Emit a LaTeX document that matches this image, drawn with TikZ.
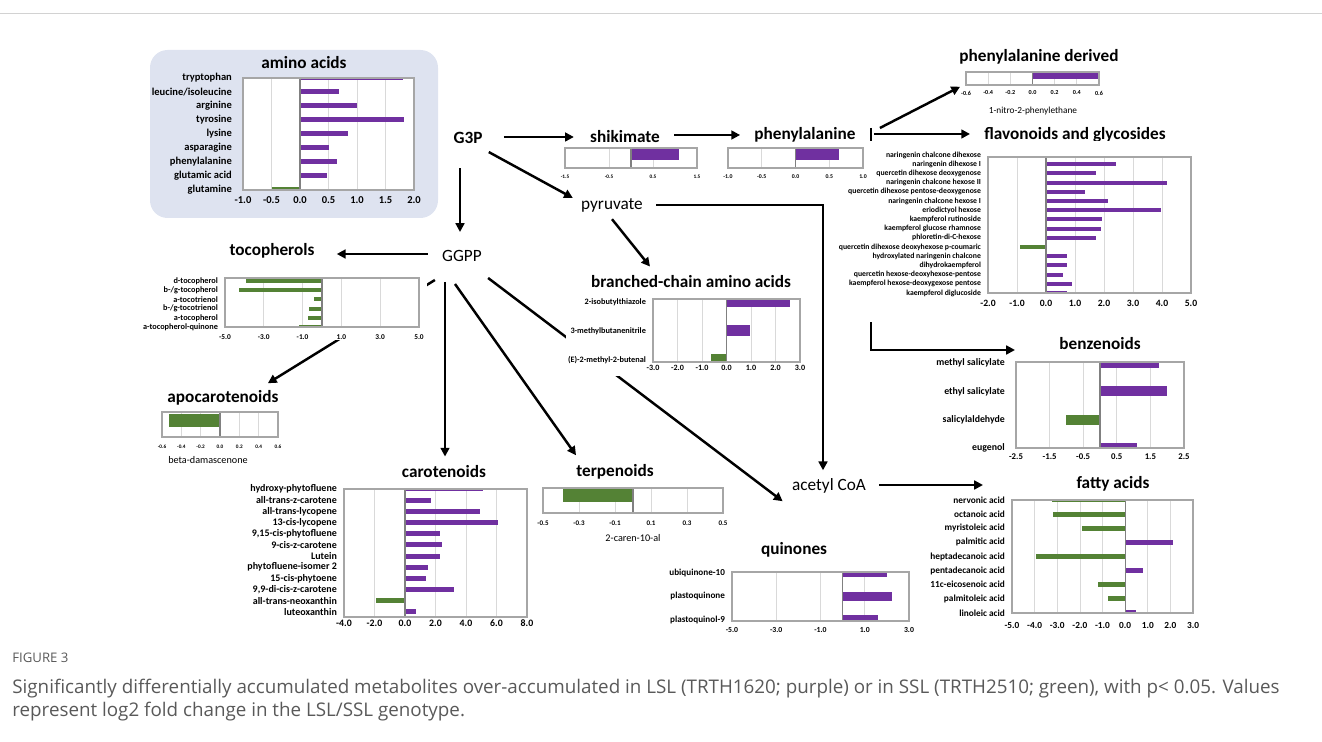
\documentclass[tikz,border=0pt]{standalone}
\usepackage{fontspec}
\setmainfont{Carlito}
\newfontfamily\capfont{Open Sans}
\usetikzlibrary{arrows.meta,calc}

\definecolor{lslpurple}{HTML}{7030A0}
\definecolor{sslgreen}{HTML}{548235}
\definecolor{gridgray}{HTML}{D9D9D9}
\definecolor{framegray}{HTML}{A6A6A6}
\definecolor{axisgray}{HTML}{808080}
\definecolor{panelblue}{HTML}{DEE3F0}
\definecolor{capgray}{HTML}{595959}

\newcommand\fs[1]{\fontsize{#1}{#1}\selectfont}
\newcommand\setchart[6]{\def\cL{#1}\def\cR{#2}\def\cT{#3}\def\cB{#4}\def\cMin{#5}\def\cMax{#6}}
\newcommand\vx[1]{(\cL+((#1)-(\cMin))*(\cR-\cL)/((\cMax)-(\cMin)))}
\newcommand\chartframe[1]{%
  \fill[white] (\cL,\cT) rectangle (\cR,\cB);
  \foreach \g in {#1} \draw[gridline] ({\vx{\g}},\cT) -- ({\vx{\g}},\cB);
}
\newcommand\chartclose[2]{%
  \draw[axisline] ({\vx{0}},\cT) -- ({\vx{0}},\cB);
  \draw[frameline] (\cL,\cT) rectangle (\cR,\cB);
  \foreach \t in {#1} \node[ticklab] at ({\vx{\t}},#2) {\t};
}
\newcommand\chartrows[5]{%
  \begin{scope}
  \clip (\cL,\cT) rectangle (\cR,\cB);
  \foreach \lab/\val [count=\i from 0] in {#5}{
    \pgfmathsetmacro\ry{#2+\i*(#3-#2)/(#1-1)}
    \ifdim\val pt<0pt\def\bc{negbar}\else\def\bc{posbar}\fi
    \fill[\bc] ({\vx{0}},{\ry-#4/2}) rectangle ({\vx{\val}},{\ry+#4/2});
  }
  \end{scope}
  \foreach \lab/\val [count=\i from 0] in {#5}{
    \pgfmathsetmacro\ry{#2+\i*(#3-#2)/(#1-1)}
    \node[rowlab] at (\cL-5,\ry) {\lab};
  }
}

\tikzset{
  posbar/.style={fill=lslpurple},
  negbar/.style={fill=sslgreen},
  gridline/.style={draw=gridgray, line width=0.4pt},
  axisline/.style={draw=axisgray, line width=0.7pt},
  frameline/.style={draw=framegray, line width=0.6pt},
  rowlab/.style={anchor=east, inner sep=1pt, font=\bfseries\fs{6}},
  ticklab/.style={inner sep=0pt, font=\bfseries\fs{6}},
  axtitle/.style={inner sep=0pt, font=\fs{5.8}},
  grouptitle/.style={inner sep=0pt, font=\bfseries\fs{9.8}},
  metab/.style={inner sep=0pt, font=\fs{9.8}},
  arr/.style={draw=black, line width=1.4pt, -{Triangle[length=5pt,width=5pt]}},
}

\begin{document}
\begin{tikzpicture}[x=0.02cm, y=-0.02cm]
\useasboundingbox (0,0) rectangle (1322,742);
\draw[gray!35, line width=0.5pt] (0,13) -- (1322,13);

\fill[panelblue, rounded corners=10pt] (150,50) rectangle (438,218);

\node[metab, font=\bfseries\fs{9.8}] (g3p) at (468,138) {G3P};
\node[metab, font=\bfseries\fs{9.8}] (shik) at (625,137) {shikimate};
\node[metab, font=\bfseries\fs{9.8}] (phe) at (805,135) {phenylalanine};
\node[metab] (pyr) at (612,205) {pyruvate};
\node[metab] (ggpp) at (462,256) {GGPP};
\node[metab] (acoa) at (829,486) {acetyl CoA};

\node[grouptitle] (t-amino) at (304,63) {amino acids};
\node[grouptitle] (t-toco) at (272,251) {tocopherols};
\node[grouptitle] (t-apo) at (223,398) {apocarotenoids};
\node[grouptitle] (t-caro) at (444,472) {carotenoids};
\node[grouptitle] (t-terp) at (615,472) {terpenoids};
\node[grouptitle] (t-bcaa) at (691,282) {branched-chain amino acids};
\node[grouptitle] (t-quin) at (794,550) {quinones};
\node[grouptitle] (t-phed) at (1039,57) {phenylalanine derived};
\node[grouptitle] (t-flav) at (1075,135) {flavonoids and glycosides};
\node[grouptitle] (t-benz) at (1100,344) {benzenoids};
\node[grouptitle] (t-fatty) at (1113,484) {fatty acids};

\coordinate (benzin) at (1015,350);
\coordinate (fattyin) at (983,485);

\draw[arr] ($(g3p.east)+(21,-1)$) -- ($(shik.west)+(-16,0)$);
\draw[arr] ($(shik.east)+(14,-2)$) -- ($(phe.west)+(-14,0)$);
\draw[arr] ($(g3p.south east)+(6,8)$) -- ($(pyr.west)+(-8,-7)$);
\draw[arr] ($(g3p.south)+(-8,24)$) -- ($(ggpp.north)+(-2,-18)$);
\draw[arr] ($(ggpp.west)+(-14,-2)$) -- ($(t-toco.east)+(22,3)$);
\draw[arr] ($(ggpp.south west)+(-7,18)$) -- ($(t-apo.north east)+(-11,-7)$);
\draw[arr] ($(ggpp.south)+(-17,20)$) -- ($(t-caro.north)+(1,-9)$);
\draw[arr] ($(ggpp.south)+(-7,22)$) -- ($(t-terp.north west)+(0,-9)$);
\draw[arr] ($(ggpp.south east)+(6,16)$) -- ($(t-quin.north west)+(22,-41)$);
\draw[arr] ($(pyr.south)+(0,7)$) -- ($(t-bcaa.north)+(-41,-9)$);
\draw[arr] ($(pyr.east)+(13,0)$) -| ($(acoa.north)+(-6,-8)$);
\draw[arr] ($(acoa.east)+(13,-1)$) -- (fattyin);
\draw[arr] ($(phe.east)+(24,-7)$) -- ($(t-phed.south west)+(1,22)$);
\draw[arr] ($(phe.east)+(18,-1)$) -- ($(t-flav.west)+(-14,-1)$);
\draw[arr] ($(phe.east)+(15,-7)$) |- (benzin);

\fill[white] (140,270) rectangle (427,340);
\fill[white] (566,292) rectangle (806,376);
\fill[white] (866,141) rectangle (1200,322);

\begin{scope}[rowlab/.append style={xshift=-2.3pt}]
\setchart{243}{414}{78}{190}{-1}{2}
\chartframe{-0.5,0.5,1,1.5}
\chartrows{9}{78}{190}{5}{tryptophan/1.8, {leucine/isoleucine}/0.68, arginine/1.0, tyrosine/1.82, lysine/0.85, asparagine/0.5, phenylalanine/0.65, glutamic acid/0.48, glutamine/-0.5}
\chartclose{-1.0,-0.5,0.0,0.5,1.0,1.5,2.0}{200}
\end{scope}

\begin{scope}[rowlab/.append style={font=\bfseries\fs{4.7}}, ticklab/.append style={font=\bfseries\fs{4.2}}]
\setchart{225}{419}{278}{327}{-5}{5}
\chartframe{-3,-1,1,3}
\chartrows{6}{281}{327}{4}{d-tocopherol/-3.9, {b-/g-tocopherol}/-4.3, a-tocotrienol/-0.4, {b-/g-tocotrienol}/-0.65, a-tocopherol/-0.7, a-tocopherol-quinone/-1.2}
\chartclose{-5.0,-3.0,-1.0,1.0,3.0,5.0}{337}
\end{scope}

\begin{scope}[ticklab/.append style={font=\bfseries\fs{3}}]
\setchart{162}{278}{412}{437}{-0.6}{0.6}
\chartframe{-0.4,-0.2,0.2,0.4}
\fill[negbar] ({\vx{0}},414) rectangle ({\vx{-0.53}},427);
\chartclose{-0.6,-0.4,-0.2,0.0,0.2,0.4,0.6}{447}
\node[axtitle] (x-apo) at (208,460) {beta-damascenone};
\end{scope}

\begin{scope}[rowlab/.append style={font=\bfseries\fs{5.7}}, ticklab/.append style={font=\bfseries\fs{5.6}}]
\setchart{344}{527}{489}{617}{-4}{8}
\chartframe{-2,2,4,6}
\chartrows{12}{489}{612}{5}{hydroxy-phytofluene/5.1, all-trans-z-carotene/1.7, all-trans-lycopene/4.9, 13-cis-lycopene/6.1, {9,15-cis-phytofluene}/2.3, 9-cis-z-carotene/2.4, Lutein/2.3, phytofluene-isomer 2/1.5, 15-cis-phytoene/1.35, {9,9-di-cis-z-carotene}/3.2, all-trans-neoxanthin/-1.9, luteoxanthin/0.7}
\chartclose{-4.0,-2.0,0.0,2.0,4.0,6.0,8.0}{623}
\end{scope}

\begin{scope}[ticklab/.append style={font=\bfseries\fs{4}}]
\setchart{543}{723}{488}{513}{-0.5}{0.5}
\chartframe{-0.3,-0.1,0.1,0.3}
\fill[negbar] ({\vx{0}},489) rectangle ({\vx{-0.39}},502);
\chartclose{-0.5,-0.3,-0.1,0.1,0.3,0.5}{523}
\node[axtitle] (x-terp) at (633,538) {2-caren-10-al};
\end{scope}

\begin{scope}[rowlab/.append style={font=\bfseries\fs{4.7}}, ticklab/.append style={font=\bfseries\fs{4.6}}]
\setchart{653}{800}{299}{362}{-3}{3}
\chartframe{-2,-1,1,2}
\chartrows{3}{302}{360}{11}{2-isobutylthiazole/2.6, 3-methylbutanenitrile/0.95, {(E)-2-methyl-2-butenal}/-0.65}
\chartclose{-3.0,-2.0,-1.0,0.0,1.0,2.0,3.0}{368}
\end{scope}

\begin{scope}[rowlab/.append style={font=\bfseries\fs{5.2}}, ticklab/.append style={font=\bfseries\fs{4.4}}]
\setchart{732}{909}{572}{621}{-5}{3}
\chartframe{-3,-1,1}
\chartrows{3}{573}{620}{9}{ubiquinone-10/2.0, plastoquinone/2.25, plastoquinol-9/1.6}
\chartclose{-5.0,-3.0,-1.0,1.0,3.0}{630}
\end{scope}

\begin{scope}[ticklab/.append style={font=\bfseries\fs{3}}]
\setchart{565}{697}{148}{168}{-1.5}{1.5}
\chartframe{-0.5,0.5}
\fill[posbar] ({\vx{0}},148) rectangle ({\vx{1.1}},160);
\chartclose{-1.5,-0.5,0.5,1.5}{177}
\end{scope}

\begin{scope}[ticklab/.append style={font=\bfseries\fs{3.3}}]
\setchart{728}{863}{148}{168}{-1}{1}
\chartframe{-0.5,0.5}
\fill[posbar] ({\vx{0}},148) rectangle ({\vx{0.65}},160);
\chartclose{-1.0,-0.5,0.0,0.5,1.0}{177}
\end{scope}

\begin{scope}[ticklab/.append style={font=\bfseries\fs{3.5}}]
\setchart{966}{1099}{72}{85}{-0.6}{0.6}
\chartframe{-0.4,-0.2,0.2,0.4}
\fill[posbar] ({\vx{0}},72) rectangle ({\vx{0.6}},79);
\chartclose{-0.6,-0.4,-0.2,0.0,0.2,0.4,0.6}{93}
\node[axtitle, font=\fs{5.3}] (x-phed) at (1033,111) {1-nitro-2-phenylethane};
\end{scope}

\begin{scope}[rowlab/.append style={font=\bfseries\fs{4.4}}, ticklab/.append style={font=\bfseries\fs{5.5}}]
\setchart{988}{1191}{157}{293}{-2}{5}
\chartframe{-1,1,2,3,4}
\chartrows{16}{155}{293}{4}{naringenin chalcone dihexose/3.16, naringenin dihexose I/2.4, quercetin dihexose deoxygenose/1.73, naringenin chalcone hexose II/4.17, quercetin dihexose pentose-deoxygenose/1.36, naringenin chalcone hexose I/2.15, eriodictyol hexose/3.95, kaempferol rutinoside/1.94, kaempferol glucose rhamnose/1.9, phloretin-di-C-hexose/1.73, quercetin dihexose deoxyhexose p-coumaric/-0.9, hydroxylated naringenin chalcone/0.74, dihydrokaempferol/0.74, quercetin hexose-deoxyhexose-pentose/0.58, kaempferol hexose-deoxygexose pentose/0.88, kaempferol diglucoside/0.72}
\chartclose{-2.0,-1.0,0.0,1.0,2.0,3.0,4.0,5.0}{303}
\end{scope}

\begin{scope}[rowlab/.append style={font=\bfseries\fs{5.6}, xshift=-2.3pt}, ticklab/.append style={font=\bfseries\fs{5}}]
\setchart{1016}{1184}{362}{448}{-2.5}{2.5}
\chartframe{-1.5,-0.5,0.5,1.5}
\chartrows{4}{363}{448}{10}{methyl salicylate/1.76, ethyl salicylate/2.0, salicylaldehyde/-1.0, eugenol/1.1}
\chartclose{-2.5,-1.5,-0.5,0.5,1.5,2.5}{457}
\end{scope}

\begin{scope}[rowlab/.append style={font=\bfseries\fs{5.3}}, ticklab/.append style={font=\bfseries\fs{5.3}}]
\setchart{1012}{1193}{500}{613}{-5}{3}
\chartframe{-4,-3,-2,-1,1,2}
\chartrows{9}{500}{613}{5}{nervonic acid/-3.25, octanoic acid/-3.2, myristoleic acid/-1.9, palmitic acid/2.1, heptadecanoic acid/-3.95, pentadecanoic acid/0.8, 11c-eicosenoic acid/-1.2, palmitoleic acid/-0.75, linoleic acid/0.5}
\chartclose{-5.0,-4.0,-3.0,-2.0,-1.0,0.0,1.0,2.0,3.0}{625}
\end{scope}

\node[anchor=base west, inner sep=0pt, text=capgray, font=\capfont\fs{7.5}] (figno) at (12,663) {FIGURE 3};
\node[anchor=base west, inner sep=0pt, text=capgray, font=\capfont\fs{10.7}] (cap1) at (12,694) {Significantly differentially accumulated metabolites over-accumulated in LSL (TRTH1620; purple) or in SSL (TRTH2510; green), with p< 0.05. Values};
\node[anchor=base west, inner sep=0pt, text=capgray, font=\capfont\fs{10.7}] (cap2) at (12,717) {represent log2 fold change in the LSL/SSL genotype.};
\end{tikzpicture}
\end{document}
